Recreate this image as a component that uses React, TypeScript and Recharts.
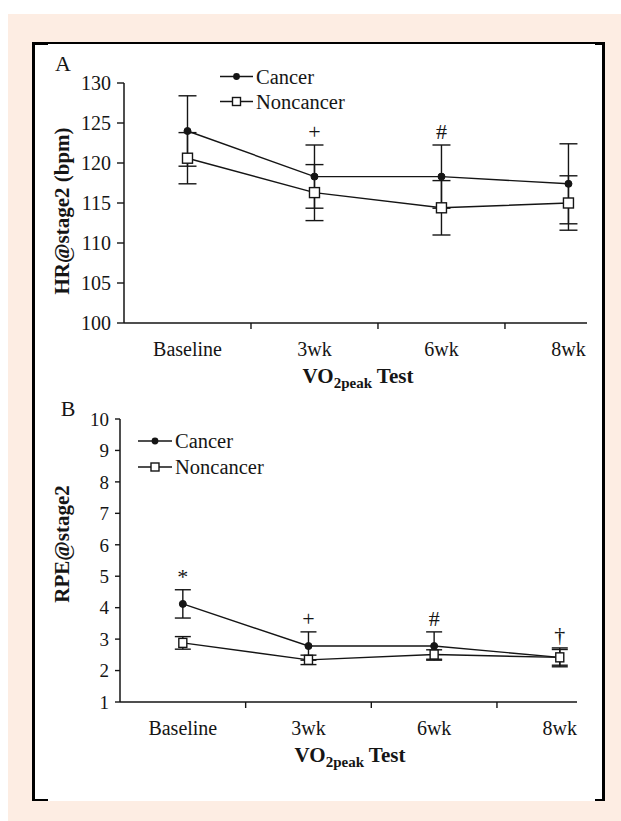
import React from 'react';
import { LineChart, Line, XAxis, YAxis, ErrorBar, Legend, LabelList } from 'recharts';

const categories = ['Baseline', '3wk', '6wk', '8wk'];
const seriesNames = ['Cancer', 'Noncancer'];

const hrCancer = [124.0, 118.3, 118.3, 117.4];
const hrCancerErr = [4.4, 3.95, 3.95, 5.0];
const hrNoncancer = [120.6, 116.3, 114.4, 115.0];
const hrNoncancerErr = [3.2, 3.5, 3.4, 3.4];
const hrMarks = ['', '+', '#', ''];
const hrTicks = [100, 105, 110, 115, 120, 125, 130];

const rpeCancer = [4.12, 2.78, 2.78, 2.42];
const rpeCancerErr = [0.45, 0.45, 0.45, 0.3];
const rpeNoncancer = [2.88, 2.34, 2.51, 2.42];
const rpeNoncancerErr = [0.2, 0.15, 0.15, 0.25];
const rpeMarks = ['*', '+', '#', '\u2020'];
const rpeTicks = [1, 2, 3, 4, 5, 6, 7, 8, 9, 10];

const xTicks = [0.5, 1, 1.5, 2, 2.5, 3, 3.5];

const INK = '#151515';
const FONT = "'Liberation Serif', 'Times New Roman', serif";
const PEACH = '#fdede3';

const build = (c: number[], ce: number[], n: number[], ne: number[], marks: string[]) =>
  categories.map((cat, i) => ({
    x: i + 0.5,
    cat,
    cancer: c[i],
    cancerErr: ce[i],
    noncancer: n[i],
    noncancerErr: ne[i],
    markY: Math.max(c[i] + ce[i], n[i] + ne[i]),
    mark: marks[i],
  }));

const hrData = build(hrCancer, hrCancerErr, hrNoncancer, hrNoncancerErr, hrMarks);
const rpeData = build(rpeCancer, rpeCancerErr, rpeNoncancer, rpeNoncancerErr, rpeMarks);

const XTick = (props: any) => {
  const { x, y, payload } = props;
  const v = payload.value;
  if (Number.isInteger(v)) {
    return <line x1={x} x2={x} y1={y} y2={y + 6} stroke={INK} strokeWidth={1.4} />;
  }
  const idx = Math.floor(v);
  return (
    <text x={x} y={y + 26} dy="0.35em" textAnchor="middle" fontSize={20} fontFamily={FONT} fill={INK}>
      {categories[idx]}
    </text>
  );
};

const makeLegend = (rowH: number, lineW: number, sq: number) => (props: any) => {
  const entries = (props.payload || []).filter((p: any) => seriesNames.includes(p.value));
  const list = entries.length ? entries.map((e: any) => e.value) : seriesNames;
  return (
    <svg width={170} height={rowH * 2 + 2} style={{ display: 'block' }}>
      {list.map((name: string, i: number) => {
        const cy = rowH * i + rowH / 2;
        return (
          <g key={name}>
            <line x1={0} x2={lineW} y1={cy} y2={cy} stroke={INK} strokeWidth={1.4} />
            {i === 0 ? (
              <circle cx={lineW / 2} cy={cy} r={3.4} fill={INK} />
            ) : (
              <rect x={lineW / 2 - sq / 2} y={cy - sq / 2} width={sq} height={sq} fill="#fff" stroke={INK} strokeWidth={1.4} />
            )}
            <text x={lineW + 3} y={cy} dy="0.35em" fontSize={20.5} fontFamily={FONT} fill={INK}>
              {name}
            </text>
          </g>
        );
      })}
    </svg>
  );
};

const squareDot = (w: number, h: number) => (p: any) => {
  if (p.cx == null || p.cy == null) return <g key={p.index} />;
  return (
    <rect key={p.index} x={p.cx - w / 2} y={p.cy - h / 2} width={w} height={h} fill="#fff" stroke={INK} strokeWidth={1.4} />
  );
};

type PanelProps = {
  data: any[];
  margin: { top: number; right: number; bottom: number; left: number };
  yDomain: [number, number];
  yTicks: number[];
  xMax: number;
  yTickSize: number;
  yTickFont: number;
  legendLeft: number;
  legendTop: number;
  legendRowH: number;
  legendLineW: number;
  sqW: number;
  sqH: number;
  dotR: number;
  capW: number;
};

function Panel(p: PanelProps) {
  return (
    <LineChart width={621} height={400} data={p.data} margin={p.margin}>
      <XAxis
        type="number"
        dataKey="x"
        domain={[0, p.xMax]}
        ticks={xTicks}
        interval={0}
        allowDataOverflow
        tickLine={false}
        tickSize={0}
        tickMargin={0}
        tick={<XTick />}
        height={60}
        axisLine={{ stroke: INK, strokeWidth: 1.5 }}
      />
      <YAxis
        type="number"
        domain={p.yDomain}
        ticks={p.yTicks}
        interval={0}
        allowDataOverflow
        width={60}
        tickSize={p.yTickSize}
        tickMargin={6}
        tickLine={{ stroke: INK, strokeWidth: 1.4 }}
        axisLine={{ stroke: INK, strokeWidth: 1.5 }}
        tick={{ fill: INK, fontSize: p.yTickFont, fontFamily: FONT }}
      />
      <Legend
        layout="vertical"
        align="center"
        verticalAlign="middle"
        wrapperStyle={{ left: p.legendLeft, top: p.legendTop, width: 170 }}
        content={makeLegend(p.legendRowH, p.legendLineW, 8)}
      />
      <Line
        name="Cancer"
        dataKey="cancer"
        stroke={INK}
        strokeWidth={1.4}
        dot={{ r: p.dotR, fill: INK, stroke: INK, strokeWidth: 1 }}
        activeDot={false}
        isAnimationActive={false}
      >
        <ErrorBar dataKey="cancerErr" width={p.capW} stroke={INK} strokeWidth={1.4} direction="y" />
      </Line>
      <Line
        name="Noncancer"
        dataKey="noncancer"
        stroke={INK}
        strokeWidth={1.4}
        dot={squareDot(p.sqW, p.sqH)}
        activeDot={false}
        isAnimationActive={false}
      >
        <ErrorBar dataKey="noncancerErr" width={p.capW} stroke={INK} strokeWidth={1.4} direction="y" />
      </Line>
      <Line
        name="marks"
        dataKey="markY"
        stroke="none"
        dot={false}
        activeDot={false}
        legendType="none"
        isAnimationActive={false}
      >
        <LabelList dataKey="mark" position="top" offset={6} fill={INK} fontSize={22} fontFamily={FONT} />
      </Line>
    </LineChart>
  );
}

const AxisTitle = ({ cx, cy }: { cx: number; cy: number }) => (
  <text x={cx} y={cy} dy="0.35em" textAnchor="middle" fontFamily={FONT} fontWeight="bold" fontSize={21} fill={INK}>
    VO
    <tspan fontSize={15} dy={5}>2peak</tspan>
    <tspan dy={-5}> Test</tspan>
  </text>
);

export default function App() {
  return (
    <div style={{ position: 'absolute', left: 0, top: 0, width: 621, height: 821, background: '#fff', overflow: 'hidden' }}>
      <div style={{ position: 'absolute', left: 8, top: 14, width: 613, height: 807, background: PEACH }} />
      <div style={{ position: 'absolute', left: 32, top: 42, width: 572, height: 759, background: '#fff' }} />
      {/* frame */}
      <div style={{ position: 'absolute', left: 32, top: 42, width: 2.5, height: 759, background: '#000' }} />
      <div style={{ position: 'absolute', left: 602, top: 42, width: 2.5, height: 759, background: '#000' }} />
      <div style={{ position: 'absolute', left: 32, top: 42, width: 572, height: 1.5, background: '#000' }} />
      <div style={{ position: 'absolute', left: 32, top: 42, width: 16, height: 2.5, background: '#000' }} />
      <div style={{ position: 'absolute', left: 595, top: 42, width: 9, height: 2.5, background: '#000' }} />
      <div style={{ position: 'absolute', left: 32, top: 799, width: 16, height: 2, background: '#000' }} />
      <div style={{ position: 'absolute', left: 595, top: 799, width: 9, height: 2, background: '#000' }} />

      <div style={{ position: 'absolute', left: 0, top: 0 }}>
        <Panel
          data={hrData}
          margin={{ top: 83, right: 34, bottom: 17, left: 64 }}
          yDomain={[100, 130]}
          yTicks={hrTicks}
          xMax={3.646}
          yTickSize={7}
          yTickFont={20}
          legendLeft={220}
          legendTop={64}
          legendRowH={25}
          legendLineW={33}
          sqW={10}
          sqH={10}
          dotR={3.5}
          capW={9}
        />
      </div>
      <div style={{ position: 'absolute', left: 0, top: 400 }}>
        <Panel
          data={rpeData}
          margin={{ top: 19, right: 44, bottom: 38, left: 60 }}
          yDomain={[1, 10]}
          yTicks={rpeTicks}
          xMax={3.637}
          yTickSize={5}
          yTickFont={19}
          legendLeft={138}
          legendTop={28}
          legendRowH={26}
          legendLineW={34}
          sqW={8}
          sqH={9}
          dotR={3.5}
          capW={8}
        />
      </div>

      <svg width={621} height={821} style={{ position: 'absolute', left: 0, top: 0, pointerEvents: 'none' }}>
        <text x={63} y={63} dy="0.35em" textAnchor="middle" fontFamily={FONT} fontSize={22} fill={INK}>A</text>
        <text x={68} y={408} dy="0.35em" textAnchor="middle" fontFamily={FONT} fontSize={22} fill={INK}>B</text>
        <text
          x={62}
          y={211}
          dy="0.35em"
          textAnchor="middle"
          fontFamily={FONT}
          fontWeight="bold"
          fontSize={21}
          fill={INK}
          transform="rotate(-90 62 211)"
        >
          HR@stage2 (bpm)
        </text>
        <text
          x={62}
          y={544}
          dy="0.35em"
          textAnchor="middle"
          fontFamily={FONT}
          fontWeight="bold"
          fontSize={21}
          fill={INK}
          transform="rotate(-90 62 544)"
        >
          RPE@stage2
        </text>
        <AxisTitle cx={358} cy={376} />
        <AxisTitle cx={350} cy={755} />
      </svg>
    </div>
  );
}
